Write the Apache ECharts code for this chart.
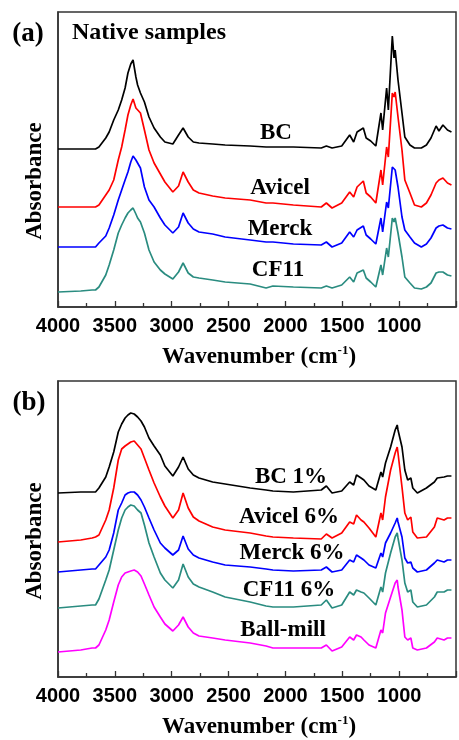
<!DOCTYPE html>
<html><head><meta charset="utf-8">
<script src="https://cdn.jsdelivr.net/npm/echarts@6/dist/echarts.min.js"></script>
<style>html,body{margin:0;padding:0;background:#fff}#c{width:459px;height:740px}</style>
</head><body><div id="c"></div>
<script>
// Panel (a) wavenumbers (cm-1) and offset absorbance values (arbitrary units)
const wnA = [4000,3800,3700,3670,3640,3580,3550,3510,3470,3440,3410,3385,3360,3340,3315,3300,3275,3240,3200,3155,3100,3060,2990,2940,2900,2855,2810,2760,2640,2530,2310,2170,2110,1930,1685,1640,1590,1505,1435,1400,1370,1315,1290,1250,1205,1160,1145,1110,1095,1060,1045,1035,1010,975,950,905,865,805,760,720,675,650,615,575,540];
const bcA = [158,158,158,158,160,169,175,187,197,207,219,234,243,247,230,222,214,205,190,179,170,165,163,172,179,170,165,164,163,162,161,160,160,160,159,161,159,161,172,165,175,179,169,166,161,194,177,219,197,271,249,257,227,194,170,162,159,159,162,169,181,176,182,177,175];
const avicelA = [100,100,100,100,102,112,117,127,147,160,177,192,202,208,199,197,194,177,157,144,133,125,115,121,135,125,117,114,111,109,107,104,104,102,100,104,99,104,115,110,120,126,114,110,104,137,122,160,150,214,210,215,190,157,127,114,102,100,104,112,124,127,129,124,122];
const merckA = [60,60,60,60,64,71,79,92,107,117,127,135,145,151,147,145,139,120,107,100,89,82,74,80,94,84,78,75,73,70,67,65,65,63,62,65,60,64,75,70,77,81,72,68,63,89,75,105,99,140,139,137,120,90,77,70,64,60,63,69,79,81,82,79,78];
const cf11A = [15,16,17,17,20,32,42,57,74,82,89,94,97,99,93,89,85,74,57,45,37,33,28,35,44,34,30,29,27,25,23,19,21,20,19,21,19,22,30,25,34,37,29,25,20,42,32,59,50,89,85,89,74,50,30,24,19,18,20,24,34,35,35,32,31];

// Panel (b)
const wnB = [4000,3800,3700,3670,3640,3580,3550,3510,3470,3440,3410,3385,3360,3330,3300,3270,3240,3200,3155,3100,3060,2990,2940,2900,2855,2810,2760,2640,2530,2310,2170,2110,1930,1685,1640,1590,1505,1435,1400,1375,1335,1310,1265,1205,1160,1145,1120,1075,1035,1017,1010,975,950,925,897,880,840,760,690,665,605,575,540];
const bcB = [184,185,185,185,189,200,210,225,245,253,259,262,264,263,260,256,250,239,231,222,211,201,210,220,208,202,199,195,193,189,187,186,185,187,191,184,186,195,192,202,199,197,191,187,205,200,214,230,247,252,247,230,207,197,199,189,184,189,195,199,200,201,201];
const avicelB = [135,137,139,140,142,157,167,189,217,228,231,233,235,236,232,228,219,207,194,180,171,159,167,184,169,160,156,150,147,144,141,140,139,138,143,139,144,155,153,162,157,155,149,140,164,157,180,207,224,230,224,190,164,157,160,145,139,140,150,159,157,159,159];
const merckB = [105,107,108,108,112,120,127,144,167,174,182,184,185,185,182,177,170,159,147,134,129,122,127,141,128,122,119,115,112,110,108,107,106,107,110,105,107,117,115,122,119,117,112,109,124,120,134,144,154,159,155,140,119,114,115,109,105,107,114,117,115,117,117];
const cf11B = [69,71,72,72,78,97,107,127,147,159,167,170,172,171,167,164,152,134,120,104,97,89,97,113,100,93,90,85,80,75,71,70,70,72,77,69,72,85,82,87,85,84,79,72,90,85,104,124,140,144,139,117,94,85,87,75,70,72,80,85,85,87,87];
const ballmillB = [25,27,29,29,32,47,57,75,92,100,104,105,106,107,105,101,93,82,70,60,53,46,52,60,50,44,41,39,37,34,31,29,29,29,32,26,30,40,37,42,40,37,32,29,47,44,64,80,94,97,90,67,40,37,39,29,27,29,35,39,37,39,39];

const labelsA = ['BC','Avicel','Merck','CF11'];
const labelsB = ['BC 1%','Avicel 6%','Merck 6%','CF11 6%','Ball-mill'];
const xTicks = [500,1000,1500,2000,2500,3000,3500,4000];

const colors = ['#000000','#ff0000','#0000ff','#2a8c80','#ff00ff'];
const serif = "'Liberation Serif','Times New Roman',serif";
const sans = "'Liberation Sans',Arial,sans-serif";

function pairs(wn, v){ return wn.map((w,i)=>[w, v[i]]); }

const chart = echarts.init(document.getElementById('c'), null, {renderer:'canvas'});

function xAxisCfg(gi){
  return {
    gridIndex: gi, type:'value', inverse:true, min:500, max:4000, interval:500,
    axisLine:{show:true, lineStyle:{color:'#333', width:1.5}},
    axisTick:{show:true, inside:true, length:6, lineStyle:{color:'#333', width:1.3}},
    minorTick:{show:true, splitNumber:2, length:4, lineStyle:{color:'#333', width:1.3}},
    splitLine:{show:false},
    axisLabel:{color:'#000', fontFamily:sans, fontWeight:'bold', fontSize:20, margin:9,
      formatter: v => (xTicks.indexOf(v) >= 1 ? String(v) : '')}
  };
}
function yAxisCfg(gi, max){
  return {
    gridIndex: gi, type:'value', min:0, max:max,
    axisLine:{show:true, lineStyle:{color:'#333', width:1.5}},
    axisTick:{show:false}, axisLabel:{show:false}, splitLine:{show:false}
  };
}
function lineSeries(gi, data, color){
  return {type:'line', xAxisIndex:gi, yAxisIndex:gi, data:data, showSymbol:false, symbol:'none',
    lineStyle:{color:color, width:1.7}, itemStyle:{color:color}, animation:false, silent:true};
}

const seriesA = [bcA, avicelA, merckA, cf11A];
const seriesB = [bcB, avicelB, merckB, cf11B, ballmillB];

function txt(x,y,text,size,extra){
  return Object.assign({type:'text', x:x, y:y, style:{text:text, fill:'#000', font:'bold '+size+'px '+serif, textAlign:'center', textVerticalAlign:'middle'}}, extra||{});
}
function xTitle(y){
  return {type:'text', x:259, y:y, style:{
    text:'{a|Wavenumber (cm}{s|-1}{a|)}', textAlign:'center', textVerticalAlign:'middle',
    rich:{a:{fontFamily:serif, fontWeight:'bold', fontSize:23, fill:'#000', color:'#000'},
          s:{fontFamily:serif, fontWeight:'bold', fontSize:13, fill:'#000', color:'#000', verticalAlign:'top', padding:[0,0,12,0]}}
  }};
}

const labelPosA = [[276,133],[280,188],[280,229],[278,270]];
const labelPosB = [[291,477],[289,517],[292,553],[289,590],[283,630]];

const graphics = [
  txt(28,34,'(a)',27), txt(29,403,'(b)',27),
  {type:'text', x:72, y:33, style:{text:'Native samples', fill:'#000', font:'bold 24px '+serif, textAlign:'left', textVerticalAlign:'middle'}},
  txt(35,181,'Absorbance',23,{rotation:Math.PI/2}),
  txt(35,541,'Absorbance',23,{rotation:Math.PI/2}),
  xTitle(357), xTitle(727)
];
labelsA.forEach((t,i)=>graphics.push(txt(labelPosA[i][0],labelPosA[i][1],t,23)));
labelsB.forEach((t,i)=>graphics.push(txt(labelPosB[i][0],labelPosB[i][1],t,23)));

chart.setOption({
  animation:false,
  backgroundColor:'#fff',
  grid:[
    {left:58, top:12, width:410, height:295, show:true, borderColor:'#333', borderWidth:1.5, backgroundColor:'transparent'},
    {left:58, top:381, width:410, height:296, show:true, borderColor:'#333', borderWidth:1.5, backgroundColor:'transparent'}
  ],
  xAxis:[xAxisCfg(0), xAxisCfg(1)],
  yAxis:[yAxisCfg(0,295), yAxisCfg(1,296)],
  series: seriesA.map((v,i)=>lineSeries(0, pairs(wnA,v), colors[i]))
    .concat(seriesB.map((v,i)=>lineSeries(1, pairs(wnB,v), colors[i]))),
  graphic: graphics
});
</script></body></html>
